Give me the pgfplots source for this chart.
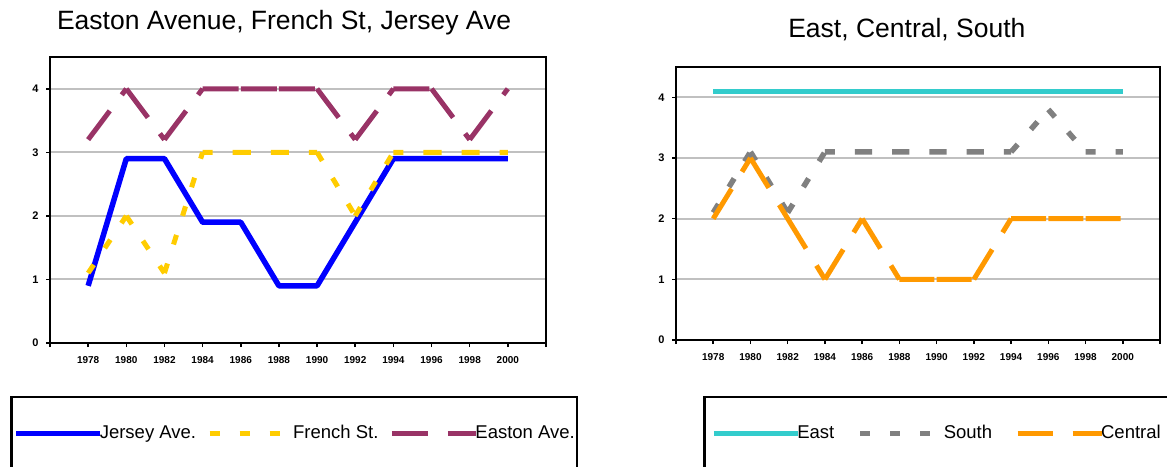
\documentclass[border=0pt]{standalone}
\usepackage{fontspec}
\setmainfont{Liberation Sans}
\usepackage{pgfplots}
\pgfplotsset{compat=1.18}

\definecolor{jersey}{HTML}{0000FF}
\definecolor{french}{HTML}{FFCC00}
\definecolor{easton}{HTML}{993366}
\definecolor{east}{HTML}{33CCCC}
\definecolor{south}{HTML}{808080}
\definecolor{central}{HTML}{FF9900}
\definecolor{gridgray}{HTML}{C0C0C0}

% Shared look of both panels. Dashed series are written segment by segment
% (separated by nan) so that the dash pattern restarts at every data point.
\pgfplotsset{
  streetaxis/.style={
    scale only axis, anchor=south west,
    xmin=1976, xmax=2002, ymin=0, ymax=4.5,
    xtick={1976,1978,...,2002},
    xticklabels={{},1978,1980,1982,1984,1986,1988,1990,1992,1994,1996,1998,2000,{}},
    ytick={0,1,2,3,4},
    xtick pos=bottom, ytick pos=left,
    tick align=outside, major tick length=4pt,
    tick style={black, line width=1.5pt},
    axis line style={black, line width=2.5pt},
    ymajorgrids, grid style={gridgray, line width=2pt},
    /pgf/number format/assume math mode=true,
    xticklabel style={font=\bfseries\fontsize{10}{11}\selectfont, yshift=-6pt},
    yticklabel style={font=\bfseries\fontsize{11}{12}\selectfont, xshift=-4pt},
    unbounded coords=jump,
    legend columns=3,
    legend cell align=left,
    legend image code/.code={\draw[##1] (0pt,0pt) -- (84pt,0pt);},
    legend style={draw=black, line width=2.5pt, anchor=north west,
      font=\fontsize{18.5}{20}\selectfont, inner ysep=28pt,
      nodes={inner sep=0pt, text height=13pt, text depth=4pt},
      /tikz/every odd column/.append style={column sep=-3pt}},
    every axis title shift=0pt,
    title style={font=\fontsize{26.5}{30}\selectfont, anchor=base, yshift=0pt},
  },
}

\begin{document}
\begin{tikzpicture}
\useasboundingbox (0pt,0pt) rectangle (1167pt,466pt);
\clip (0pt,0pt) rectangle (1167pt,466pt);

% ---------------- left panel ----------------
\begin{axis}[streetaxis, at={(50pt,123pt)}, width=496pt, height=286pt,
  title={Easton Avenue, French St, Jersey Ave},
  title style={at={(axis description cs:0.472,1.096)}},
  legend style={at={(axis description cs:-0.0806,-0.1853)}, inner xsep=2pt,
    /tikz/every even column/.append style={column sep=11pt}}]
\addplot[jersey, line width=5.5pt, line join=round] coordinates {
  (1978,0.9) (1980,2.9) (1982,2.9) (1984,1.9) (1986,1.9) (1988,0.9)
  (1990,0.9) (1992,1.9) (1994,2.9) (1996,2.9) (1998,2.9) (2000,2.9)};
\addlegendentry{Jersey Ave.}
\addplot[french, line width=5pt, dash pattern=on 10pt off 20pt] coordinates {
  (1978,1.1) (1980,2.0) (1980,nan) (1980,2.0) (1982,1.1) (1982,nan)
  (1982,1.1) (1984,3.0) (1984,nan) (1984,3.0) (1986,3.0) (1986,nan)
  (1986,3.0) (1988,3.0) (1988,nan) (1988,3.0) (1990,3.0) (1990,nan)
  (1990,3.0) (1992,2.0) (1992,nan) (1992,2.0) (1994,3.0) (1994,nan)
  (1994,3.0) (1996,3.0) (1996,nan) (1996,3.0) (1998,3.0) (1998,nan)
  (1998,3.0) (2000,3.0)};
\addlegendentry{French St.}
\addplot[easton, line width=5pt, dash pattern=on 36pt off 20pt] coordinates {
  (1978,3.2) (1980,4.0) (1980,nan) (1980,4.0) (1982,3.2) (1982,nan)
  (1982,3.2) (1984,4.0) (1984,nan) (1984,4.0) (1986,4.0) (1986,nan)
  (1986,4.0) (1988,4.0) (1988,nan) (1988,4.0) (1990,4.0) (1990,nan)
  (1990,4.0) (1992,3.2) (1992,nan) (1992,3.2) (1994,4.0) (1994,nan)
  (1994,4.0) (1996,4.0) (1996,nan) (1996,4.0) (1998,3.2) (1998,nan)
  (1998,3.2) (2000,4.0)};
\addlegendentry{Easton Ave.}
\end{axis}

% ---------------- right panel ----------------
\begin{axis}[streetaxis, at={(676pt,126pt)}, width=484pt, height=273pt,
  title={East, Central, South},
  title style={at={(axis description cs:0.477,1.108)}},
  legend style={at={(axis description cs:0.0558,-0.2051)}, inner xsep=7pt,
    /tikz/every even column/.append style={column sep=23pt}}]
\addplot[east, line width=5pt] coordinates {
  (1978,4.1) (1980,4.1) (1982,4.1) (1984,4.1) (1986,4.1) (1988,4.1)
  (1990,4.1) (1992,4.1) (1994,4.1) (1996,4.1) (1998,4.1) (2000,4.1)};
\addlegendentry{East}
\addplot[south, line width=5.5pt, dash pattern=on 10pt off 20pt] coordinates {
  (1978,2.1) (1980,3.1) (1980,nan) (1980,3.1) (1982,2.1) (1982,nan)
  (1982,2.1) (1984,3.1) (1984,nan) (1984,3.1) (1986,3.1) (1986,nan)
  (1986,3.1) (1988,3.1) (1988,nan) (1988,3.1) (1990,3.1) (1990,nan)
  (1990,3.1) (1992,3.1) (1992,nan) (1992,3.1) (1994,3.1) (1994,nan)
  (1994,3.1) (1996,3.8) (1996,nan) (1996,3.8) (1998,3.1) (1998,nan)
  (1998,3.1) (2000,3.1)};
\addlegendentry{South}
\addplot[central, line width=5pt, dash pattern=on 35pt off 20pt] coordinates {
  (1978,2.0) (1980,3.0) (1980,nan) (1980,3.0) (1982,2.0) (1982,nan)
  (1982,2.0) (1984,1.0) (1984,nan) (1984,1.0) (1986,2.0) (1986,nan)
  (1986,2.0) (1988,1.0) (1988,nan) (1988,1.0) (1990,1.0) (1990,nan)
  (1990,1.0) (1992,1.0) (1992,nan) (1992,1.0) (1994,2.0) (1994,nan)
  (1994,2.0) (1996,2.0) (1996,nan) (1996,2.0) (1998,2.0) (1998,nan)
  (1998,2.0) (2000,2.0)};
\addlegendentry{Central}
\end{axis}
\end{tikzpicture}
\end{document}
